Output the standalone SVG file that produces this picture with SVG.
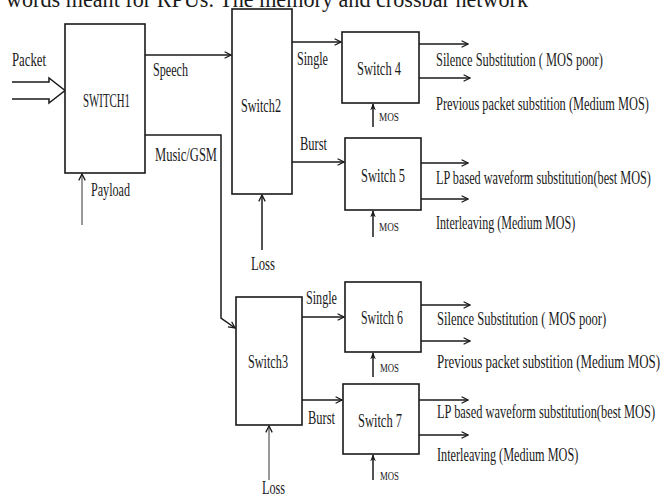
<svg xmlns="http://www.w3.org/2000/svg" width="666" height="498" viewBox="0 0 666 498">
<style>
text{font-family:"Liberation Serif","Times New Roman",serif;fill:#1a1a1a;font-size:18px}
.box{fill:#fff;stroke:#1a1a1a;stroke-width:1.6}
.c{fill:none;stroke:#1a1a1a;stroke-width:1.5}
.t{fill:none;stroke:#333;stroke-width:1}
.mos{font-size:11.5px}
.top{font-size:23px}
</style>
<defs>
<marker id="ah" viewBox="0 0 10 10" refX="9" refY="5" markerWidth="8" markerHeight="8" markerUnits="userSpaceOnUse" orient="auto">
<path d="M1,1 L9,5 L1,9" fill="none" stroke="#1a1a1a" stroke-width="1.6"/>
</marker>
<marker id="af" viewBox="0 0 10 10" refX="9" refY="5" markerWidth="7" markerHeight="7" markerUnits="userSpaceOnUse" orient="auto">
<path d="M0,1 L10,5 L0,9 L3,5 Z" fill="#1a1a1a"/>
</marker>
</defs>
<rect width="666" height="498" fill="#fff"/>
<text class="top" x="6" y="7" textLength="522" lengthAdjust="spacingAndGlyphs">words meant for RPUs. The memory and crossbar network</text>

<g id="connectors">
<path class="c" d="M145,55 H231" marker-end="url(#ah)"/>
<path class="c" d="M145,135 H221 V318 L235,328" marker-end="url(#ah)"/>
<path class="t" d="M82,225 V174" marker-end="url(#ah)"/>
<path class="c" d="M262,250 V195" marker-end="url(#ah)"/>
<path class="c" d="M292,42 H341" marker-end="url(#ah)"/>
<path class="c" d="M292,162 H344" marker-end="url(#ah)"/>
<path class="c" d="M419,44 H468" marker-end="url(#ah)"/>
<path class="c" d="M419,78 H470" marker-end="url(#ah)"/>
<path class="c" d="M421,163 H468" marker-end="url(#ah)"/>
<path class="c" d="M421,199 H468" marker-end="url(#ah)"/>
<path class="c" d="M373,127 V104" marker-end="url(#af)"/>
<path class="c" d="M373,237 V211" marker-end="url(#af)"/>
<path class="c" d="M302,317 H344" marker-end="url(#ah)"/>
<path class="c" d="M302,400 H342" marker-end="url(#ah)"/>
<path class="t" d="M269,480 V426" marker-end="url(#ah)"/>
<path class="c" d="M421,305 H470" marker-end="url(#ah)"/>
<path class="c" d="M421,341 H470" marker-end="url(#ah)"/>
<path class="c" d="M419,400 H468" marker-end="url(#ah)"/>
<path class="c" d="M419,435 H468" marker-end="url(#ah)"/>
<path class="c" d="M373,377 V353" marker-end="url(#af)"/>
<path class="c" d="M373,480 V455" marker-end="url(#af)"/>
</g>

<g id="packet">
<path d="M12,82 H49 V78 L65,90.5 L49,103 V99 H12" fill="#fff" stroke="#1a1a1a" stroke-width="1.5"/>
<text x="12" y="66" textLength="34" lengthAdjust="spacingAndGlyphs">Packet</text>
</g>

<g id="switch1">
<rect class="box" x="65" y="24" width="80" height="149"/>
<text x="83" y="107" textLength="47" lengthAdjust="spacingAndGlyphs">SWITCH1</text>
</g>
<g id="label-speech"><text x="153" y="76" textLength="35" lengthAdjust="spacingAndGlyphs">Speech</text></g>
<g id="label-music"><text x="155" y="161" textLength="62" lengthAdjust="spacingAndGlyphs">Music/GSM</text></g>
<g id="label-payload"><text x="91" y="196" textLength="39" lengthAdjust="spacingAndGlyphs">Payload</text></g>

<g id="switch2">
<rect class="box" x="232" y="9" width="60" height="185"/>
<text x="241" y="112" textLength="40" lengthAdjust="spacingAndGlyphs">Switch2</text>
</g>
<g id="label-loss1"><text x="251" y="270" textLength="24" lengthAdjust="spacingAndGlyphs">Loss</text></g>
<g id="label-single1"><text x="297" y="65" textLength="31" lengthAdjust="spacingAndGlyphs">Single</text></g>
<g id="label-burst1"><text x="300" y="150" textLength="27" lengthAdjust="spacingAndGlyphs">Burst</text></g>

<g id="switch4">
<rect class="box" x="342" y="32" width="77" height="71"/>
<text x="357" y="75" textLength="44" lengthAdjust="spacingAndGlyphs">Switch 4</text>
<text class="mos" x="379" y="121" textLength="20" lengthAdjust="spacingAndGlyphs">MOS</text>
</g>
<g id="out4">
<text transform="translate(436,66) scale(0.69,1)">Silence Substitution ( MOS poor)</text>
<text transform="translate(436,110) scale(0.687,1)">Previous packet substition (Medium MOS)</text>
</g>

<g id="switch5">
<rect class="box" x="345" y="138" width="76" height="72"/>
<text x="361" y="182" textLength="44" lengthAdjust="spacingAndGlyphs">Switch 5</text>
<text class="mos" x="379" y="231" textLength="20" lengthAdjust="spacingAndGlyphs">MOS</text>
</g>
<g id="out5">
<text transform="translate(436,184) scale(0.68,1)">LP based waveform substitution(best MOS)</text>
<text transform="translate(436,229) scale(0.67,1)">Interleaving (Medium MOS)</text>
</g>

<g id="switch3">
<rect class="box" x="236" y="297" width="66" height="128"/>
<text x="248" y="368" textLength="40" lengthAdjust="spacingAndGlyphs">Switch3</text>
</g>
<g id="label-single2"><text x="306" y="304" textLength="31" lengthAdjust="spacingAndGlyphs">Single</text></g>
<g id="label-burst2"><text x="308" y="424" textLength="27" lengthAdjust="spacingAndGlyphs">Burst</text></g>
<g id="label-loss2"><text x="262" y="494" textLength="23" lengthAdjust="spacingAndGlyphs">Loss</text></g>

<g id="switch6">
<rect class="box" x="345" y="282" width="76" height="70"/>
<text x="361" y="324" textLength="42" lengthAdjust="spacingAndGlyphs">Switch 6</text>
<text class="mos" x="380" y="372" textLength="19" lengthAdjust="spacingAndGlyphs">MOS</text>
</g>
<g id="out6">
<text transform="translate(437,325) scale(0.70,1)">Silence Substitution ( MOS poor)</text>
<text transform="translate(437,368) scale(0.72,1)">Previous packet substition (Medium MOS)</text>
</g>

<g id="switch7">
<rect class="box" x="343" y="384" width="76" height="70"/>
<text x="358" y="427" textLength="44" lengthAdjust="spacingAndGlyphs">Switch 7</text>
<text class="mos" x="380" y="480" textLength="19" lengthAdjust="spacingAndGlyphs">MOS</text>
</g>
<g id="out7">
<text transform="translate(437,418) scale(0.69,1)">LP based waveform substitution(best MOS)</text>
<text transform="translate(437,461) scale(0.68,1)">Interleaving (Medium MOS)</text>
</g>
</svg>
